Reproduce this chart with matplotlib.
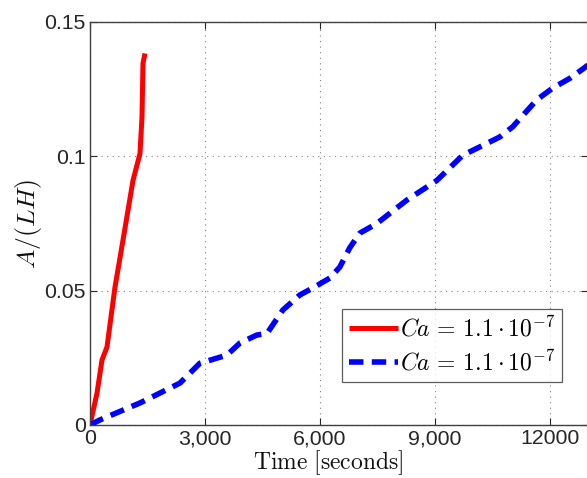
import matplotlib
matplotlib.use("Agg")
import matplotlib.pyplot as plt
from matplotlib.ticker import FixedLocator, FixedFormatter

plt.rcParams["mathtext.fontset"] = "cm"
plt.rcParams["font.family"] = ["Liberation Sans", "DejaVu Sans"]

# Interface area growth, fast run
t_fast = [0, 183, 313, 443, 652, 861, 1122, 1304, 1357, 1383, 1435]
a_fast = [0, 0.0119, 0.0242, 0.029, 0.0513, 0.0688, 0.091, 0.101, 0.1145, 0.1346, 0.1383]

# Interface area growth, slow run
t_slow = [0, 261, 1304, 2348, 2870, 3574, 3913, 4357, 4617, 5035, 5478, 5817, 6261,
          6522, 6783, 7043, 7487, 8270, 9052, 9730, 10174, 10696, 11035, 11661,
          12078, 12522, 12913, 13000]
a_slow = [0, 0.0019, 0.0082, 0.0156, 0.023, 0.026, 0.0305, 0.0335, 0.034, 0.0428,
          0.0484, 0.051, 0.0547, 0.0588, 0.066, 0.0714, 0.075, 0.0837, 0.091, 0.1004,
          0.1035, 0.1072, 0.111, 0.121, 0.1254, 0.129, 0.133, 0.134]

x_ticks = [0, 3000, 6000, 9000, 12000]
x_tick_labels = ["0", "3,000", "6,000", "9,000", "12000"]
y_ticks = [0, 0.05, 0.1, 0.15]
y_tick_labels = ["0", "0.05", "0.1", "0.15"]
legend_labels = [r"$Ca\,=\,1.1\cdot10^{-7}$", r"$Ca\,=\,1.1\cdot10^{-7}$"]

fig = plt.figure(figsize=(5.87, 4.78), dpi=100)
ax = fig.add_axes([90 / 587, 53 / 478, 498 / 587, 403 / 478])

ax.plot(t_fast, a_fast, color="#ff0000", lw=3.6, solid_capstyle="butt",
        solid_joinstyle="round", label=legend_labels[0])
ax.plot(t_slow, a_slow, color="#0000ff", lw=4.0, ls=(0, (2.6, 1.5)),
        label=legend_labels[1])

ax.set_xlim(0, 13000)
ax.set_ylim(0, 0.15)
ax.xaxis.set_major_locator(FixedLocator(x_ticks))
ax.xaxis.set_major_formatter(FixedFormatter(x_tick_labels))
ax.yaxis.set_major_locator(FixedLocator(y_ticks))
ax.yaxis.set_major_formatter(FixedFormatter(y_tick_labels))

ax.tick_params(direction="in", top=True, right=True, length=5, width=0.8,
               labelsize=15.3, colors="#262626", pad=3)
for s in ax.spines.values():
    s.set_color("#404040")
    s.set_linewidth(1.0)

ax.grid(True, ls=(0, (1, 4)), color="#808080", lw=0.8)

ax.set_xlabel(r"$\mathrm{Time\ [seconds]}$", fontsize=17, color="#111111")
ax.xaxis.set_label_coords(0.478, -0.058)
ax.xaxis.label.set_va("top")
ax.set_ylabel(r"$A/(LH)$", fontsize=18.5, color="#111111")
ax.yaxis.set_label_coords(-0.092, 0.5)

leg = ax.legend(loc="lower right", bbox_to_anchor=(0.948, 0.107), fontsize=17,
                frameon=True, fancybox=False, handlelength=2.1, handletextpad=0.05,
                borderpad=0.3, labelspacing=0.35, borderaxespad=0)
leg.get_frame().set_edgecolor("#333333")
leg.get_frame().set_linewidth(0.9)

fig.savefig("out.png", dpi=100)
